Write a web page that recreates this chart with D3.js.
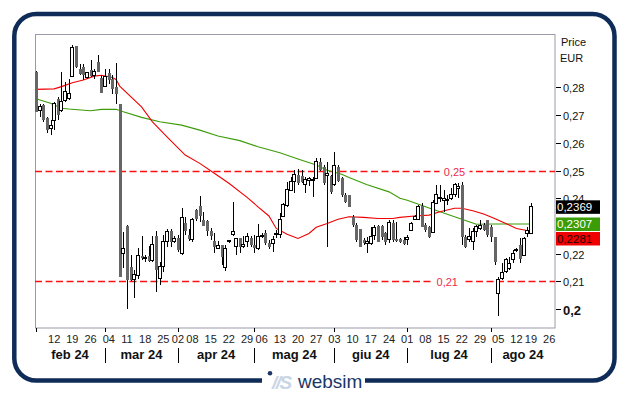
<!DOCTYPE html>
<html>
<head>
<meta charset="utf-8">
<script src="https://cdn.jsdelivr.net/npm/d3@7/dist/d3.min.js"></script>
<style>
  body { margin: 0; background: #fff; }
  svg { display: block; font-family: "Liberation Sans", Arial, sans-serif; }
</style>
</head>
<body>
<svg id="chart" width="629" height="395"></svg>
<script>
// Borsa closing days inside the shown range
const holidays = ["2024-03-29", "2024-04-01", "2024-05-01", "2024-08-15"];
const firstDay = "2024-02-05";
const lastAxisDay = "2024-08-30";

const monthNames = ["gen", "feb", "mar", "apr", "mag", "giu", "lug", "ago", "set", "ott", "nov", "dic"];

// daily candles [open, high, low, close], one per trading day from 5 feb 24
const ohlc = [
  [.2856, .2860, .2710, .2712], [.2717, .2740, .2695, .2732], [.2736, .2740, .2675, .2682], [.2688, .2694, .2634, .2646],
  [.2652, .2682, .2628, .2664], [.2682, .2748, .2646, .2742], [.2760, .2766, .2682, .2700], [.2718, .2856, .2712, .2748],
  [.2754, .2820, .2748, .2784], [.2760, .2832, .2754, .2780], [.2841, .2953, .2838, .2944], [.2949, .2949, .2870, .2874],
  [.2868, .2886, .2844, .2850], [.2874, .2886, .2826, .2844], [.2836, .2856, .2832, .2853], [.2862, .2898, .2838, .2841],
  [.2844, .2868, .2832, .2859], [.2892, .2916, .2856, .2856], [.2836, .2844, .2781, .2781], [.2805, .2865, .2800, .2841],
  [.2853, .2865, .2814, .2826], [.2829, .2844, .2776, .2796], [.2800, .2889, .2742, .2778], [.2742, .2742, .2117, .2117],
  [.2201, .2279, .2147, .2219], [.2298, .2304, .1999, .2105], [.2153, .2195, .2100, .2105], [.2105, .2141, .2039, .2123],
  [.2120, .2219, .2110, .2195], [.2192, .2265, .2177, .2183], [.2183, .2195, .2170, .2185], [.2193, .2228, .2170, .2174],
  [.2174, .2262, .2171, .2234], [.2262, .2280, .2063, .2141], [.2111, .2171, .2087, .2153], [.2153, .2268, .2135, .2243],
  [.2243, .2288, .2225, .2280], [.2283, .2288, .2225, .2243], [.2243, .2262, .2238, .2253], [.2256, .2268, .2207, .2213],
  [.2201, .2364, .2195, .2331], [.2312, .2334, .2268, .2283], [.2268, .2288, .2244, .2253], [.2250, .2328, .2243, .2325],
  [.2357, .2362, .2318, .2324], [.2373, .2408, .2313, .2337], [.2322, .2352, .2298, .2298], [.2318, .2322, .2262, .2280],
  [.2283, .2292, .2250, .2262], [.2246, .2274, .2201, .2225], [.2220, .2244, .2216, .2231], [.2231, .2232, .2159, .2189],
  [.2150, .2231, .2138, .2219], [.2244, .2250, .2240, .2246], [.2268, .2385, .2262, .2280], [.2225, .2256, .2195, .2256],
  [.2256, .2256, .2201, .2225], [.2225, .2262, .2220, .2232], [.2244, .2274, .2225, .2262], [.2256, .2262, .2225, .2232],
  [.2232, .2268, .2201, .2220], [.2220, .2307, .2214, .2262], [.2262, .2274, .2256, .2266], [.2274, .2286, .2232, .2238],
  [.2238, .2250, .2216, .2223], [.2235, .2262, .2207, .2252], [.2270, .2286, .2256, .2274], [.2268, .2348, .2256, .2324],
  [.2334, .2382, .2331, .2376], [.2375, .2460, .2370, .2430], [.2427, .2478, .2427, .2460], [.2460, .2502, .2418, .2484],
  [.2484, .2504, .2448, .2456], [.2480, .2502, .2455, .2458], [.2450, .2478, .2418, .2468], [.2465, .2478, .2445, .2470],
  [.2466, .2478, .2406, .2469], [.2472, .2546, .2468, .2534], [.2532, .2546, .2500, .2502], [.2514, .2520, .2448, .2454],
  [.2482, .2532, .2225, .2490], [.2481, .2484, .2414, .2421], [.2450, .2568, .2445, .2520], [.2514, .2520, .2460, .2463],
  [.2472, .2478, .2406, .2412], [.2412, .2418, .2382, .2387], [.2412, .2412, .2368, .2370], [.2333, .2339, .2297, .2303],
  [.2303, .2310, .2243, .2249], [.2288, .2288, .2225, .2225], [.2249, .2255, .2231, .2240], [.2238, .2261, .2201, .2244],
  [.2235, .2297, .2231, .2261], [.2267, .2303, .2249, .2295], [.2300, .2303, .2243, .2243], [.2300, .2303, .2249, .2261],
  [.2273, .2279, .2231, .2243], [.2252, .2321, .2237, .2312], [.2309, .2321, .2243, .2249], [.2253, .2315, .2243, .2247],
  [.2251, .2255, .2237, .2243], [.2249, .2261, .2231, .2233], [.2251, .2267, .2231, .2258], [.2283, .2315, .2283, .2309],
  [.2324, .2339, .2321, .2333], [.2324, .2375, .2321, .2369], [.2372, .2381, .2295, .2295], [.2303, .2312, .2279, .2285],
  [.2295, .2300, .2255, .2261], [.2275, .2395, .2275, .2385], [.2382, .2448, .2382, .2412], [.2400, .2448, .2388, .2401],
  [.2391, .2430, .2352, .2400], [.2392, .2412, .2376, .2397], [.2400, .2436, .2394, .2412], [.2412, .2454, .2406, .2448],
  [.2436, .2454, .2400, .2444], [.2448, .2460, .2231, .2261], [.2261, .2267, .2219, .2225], [.2250, .2292, .2243, .2261],
  [.2243, .2292, .2213, .2279], [.2279, .2303, .2261, .2297], [.2291, .2322, .2285, .2303], [.2303, .2310, .2280, .2285],
  [.2322, .2322, .2261, .2267], [.2297, .2303, .2243, .2261], [.2261, .2261, .2159, .2171], [.2057, .2117, .1973, .2105],
  [.2111, .2165, .2105, .2132], [.2135, .2183, .2129, .2177], [.2148, .2189, .2141, .2165], [.2177, .2213, .2165, .2201],
  [.2213, .2220, .2207, .2215], [.2231, .2255, .2165, .2180], [.2195, .2261, .2190, .2255], [.2273, .2295, .2260, .2283],
  [.2274, .2382, .2274, .2369]
];

// moving averages: [trading day index, value]
const redAvg = [
  [0, .2793], [5, .2795], [7, .2803], [10, .2817], [13, .2827], [16, .2841], [18, .2844], [21, .2836], [22, .2829],
  [23, .2805], [29, .2730], [32, .2676], [36, .2622], [41, .2556], [45, .2526], [49, .2490], [53, .2454], [58, .2403],
  [61, .2369], [64, .2336], [66, .2291], [69, .2270], [72, .2255], [75, .2273], [77, .2295], [80, .2309], [83, .2324],
  [86, .2333], [90, .2331], [94, .2327], [98, .2327], [100, .2331], [104, .2336], [108, .2339], [111, .2351], [115, .2364],
  [117, .2364], [120, .2355], [123, .2343], [126, .2327], [130, .2303], [132, .2291], [136, .2281]
];
const greenAvg = [
  [0, .2759], [4, .2743], [7, .2725], [9, .2722], [15, .2716], [18, .2721], [22, .2721], [24, .2712], [29, .2692],
  [34, .2676], [40, .2664], [45, .2646], [50, .2625], [56, .2608], [61, .2586], [67, .2564], [72, .2542], [77, .2520],
  [80, .2501], [84, .2487], [86, .2475], [91, .2449], [97, .2423], [100, .2400], [102, .2393], [108, .2365], [111, .2351],
  [115, .2333], [119, .2315], [121, .2306], [126, .2307], [136, .2307]
];

const priceTicks = [0.20, 0.21, 0.22, 0.23, 0.24, 0.25, 0.26, 0.27, 0.28];
// 0,23 sits under the last value boxes, so it gets no label
const hiddenTickLabels = [0.23];
const levelLines = [{ value: 0.25, at: 115 }, { value: 0.21, at: 113 }];

const lastValues = [
  { value: 0.2369, fill: "#000000", text: "#ffffff" },
  { value: 0.2307, fill: "#3c9c08", text: "#ffffff" },
  { value: 0.2281, fill: "#f00000", text: "#1a0000" }
];

// ---- trading calendar
const parse = d3.timeParse("%Y-%m-%d");
const fmt = d3.timeFormat("%Y-%m-%d");
const days = d3.timeDay.range(parse(firstDay), d3.timeDay.offset(parse(lastAxisDay), 1))
  .filter(d => d.getDay() !== 0 && d.getDay() !== 6 && !holidays.includes(fmt(d)));

const svg = d3.select("#chart");
const comma = v => d3.format(".2~f")(v).replace(".", ",");

const xScale = d3.scaleLinear().domain([-0.27, 142.6]).range([35, 555]);
const yScale = d3.scaleLinear().domain([0.19314, 0.29931]).range([328, 34]);

// outer rounded frame
svg.append("rect")
  .attr("x", 14.3).attr("y", 14).attr("width", 600.2).attr("height", 366.5)
  .attr("rx", 22).attr("fill", "none")
  .attr("stroke", "#0f2b57").attr("stroke-width", 4.5);

// logo gap in the bottom border
svg.append("rect").attr("x", 262).attr("y", 374).attr("width", 103).attr("height", 14).attr("fill", "#fff");
const logo = svg.append("g");
logo.append("circle").attr("cx", 270).attr("cy", 373.3).attr("r", 2.3).attr("fill", "#1b3766");
logo.append("text").attr("x", 272).attr("y", 388.5)
  .attr("font-size", 19).attr("font-weight", "bold").attr("font-style", "italic")
  .attr("letter-spacing", -1.5).attr("fill", "#c9d5e4").text("//S");
logo.append("text").attr("x", 298).attr("y", 388.3)
  .attr("font-size", 19).attr("fill", "#1b3766").text("websim");

// plot area
svg.append("defs").append("clipPath").attr("id", "plotClip")
  .append("rect").attr("x", 35).attr("y", 34).attr("width", 520).attr("height", 294);

svg.append("rect")
  .attr("x", 35.5).attr("y", 34.5).attr("width", 519.5).attr("height", 293.5)
  .attr("fill", "#fff").attr("stroke", "#9a9aa8").attr("stroke-width", 1);

const plot = svg.append("g").attr("clip-path", "url(#plotClip)");

// horizontal levels
levelLines.forEach(l => {
  const y = Math.round(yScale(l.value)) + 0.5;
  plot.append("line").attr("x1", 35).attr("x2", 555).attr("y1", y).attr("y2", y)
    .attr("stroke", "#ff1010").attr("stroke-width", 1.4).attr("stroke-dasharray", "7,3.5");
  const cx = xScale(l.at);
  plot.append("rect").attr("x", cx - 15).attr("y", y - 3).attr("width", 30).attr("height", 6).attr("fill", "#fff");
  plot.append("text").attr("x", cx).attr("y", y + 4).attr("text-anchor", "middle")
    .attr("font-size", 11).attr("fill", "#ee2a4e").text(comma(l.value));
});

// moving averages
const line = d3.line().x(d => xScale(d[0])).y(d => yScale(d[1]));
plot.append("path").datum(greenAvg).attr("d", line)
  .attr("fill", "none").attr("stroke", "#3c9c08").attr("stroke-width", 1.1);
plot.append("path").datum(redAvg).attr("d", line)
  .attr("fill", "none").attr("stroke", "#f00000").attr("stroke-width", 1.1);

// candles
const candles = plot.append("g").attr("shape-rendering", "crispEdges")
  .selectAll("g").data(ohlc).enter().append("g");

candles.append("line")
  .attr("x1", (d, i) => Math.round(xScale(i)) + 0.5)
  .attr("x2", (d, i) => Math.round(xScale(i)) + 0.5)
  .attr("y1", d => yScale(d[1]))
  .attr("y2", d => yScale(d[2]))
  .attr("stroke", "#000");

candles.append("rect")
  .attr("x", (d, i) => d[3] >= d[0] ? Math.round(xScale(i)) - 1.5 : Math.round(xScale(i)) - 1)
  .attr("width", d => 3)
  .attr("y", d => yScale(Math.max(d[0], d[3])))
  .attr("height", d => Math.max(1, yScale(Math.min(d[0], d[3])) - yScale(Math.max(d[0], d[3]))))
  .attr("fill", d => d[3] >= d[0] ? "#fff" : "#666")
  .attr("stroke", d => d[3] >= d[0] ? "#000" : "none");

// right price axis
const yAxisG = svg.append("g");
priceTicks.forEach(v => {
  const y = Math.round(yScale(v)) + 0.5;
  yAxisG.append("line").attr("x1", 556).attr("x2", 561).attr("y1", y).attr("y2", y).attr("stroke", "#000");
  if (hiddenTickLabels.includes(v)) return;
  const round = Math.abs(v * 10 - Math.round(v * 10)) < 1e-9;
  yAxisG.append("text").attr("x", 563).attr("y", y + (round ? 5 : 4))
    .attr("font-size", round ? 13 : 11).attr("font-weight", round ? "bold" : "normal")
    .attr("fill", "#111").text(comma(v));
});
svg.append("text").attr("x", 561).attr("y", 46).attr("font-size", 11).attr("fill", "#111").text("Price");
svg.append("text").attr("x", 560).attr("y", 62).attr("font-size", 11).attr("fill", "#111").text("EUR");

// last value boxes, stacked so they do not overlap
let prevTop = -Infinity;
lastValues.forEach(b => {
  let top = yScale(b.value) - 6.5;
  if (top < prevTop + 14.5) top = prevTop + 14.5;
  prevTop = top;
  svg.append("rect").attr("x", 556).attr("y", top).attr("width", 44).attr("height", 13.5).attr("fill", b.fill);
  svg.append("text").attr("x", 557).attr("y", top + 11).attr("font-size", 11.5)
    .attr("fill", b.text).text(d3.format(".4f")(b.value).replace(".", ","));
});

// date axis: week labels and month bands
const xAxisG = svg.append("g").attr("shape-rendering", "crispEdges");
const weekStarts = days.map((d, i) => ({ d, i }))
  .filter((o, k, arr) => k === 0 || d3.timeMonday.floor(o.d) - d3.timeMonday.floor(arr[k - 1].d) !== 0);
weekStarts.slice(1).forEach(o => {
  if (xScale(o.i) > 555) return;
  xAxisG.append("text").attr("x", xScale(o.i)).attr("y", 343).attr("text-anchor", "middle")
    .attr("font-size", 11).attr("fill", "#222").text(d3.timeFormat("%d")(o.d));
});

const monthStarts = days.map((d, i) => ({ d, i }))
  .filter((o, k, arr) => k === 0 || o.d.getMonth() !== arr[k - 1].d.getMonth());
monthStarts.forEach((o, k) => {
  const x = Math.round(xScale(o.i)) + 0.5;
  xAxisG.append("line").attr("x1", x).attr("x2", x).attr("y1", 328).attr("y2", 332).attr("stroke", "#000");
  if (k > 0) {
    xAxisG.append("line").attr("x1", x).attr("x2", x).attr("y1", 348).attr("y2", 363).attr("stroke", "#000");
  }
  const left = k === 0 ? 35 : xScale(o.i);
  const next = monthStarts[k + 1];
  const right = next ? xScale(next.i) : 555;
  xAxisG.append("text").attr("x", (left + right) / 2).attr("y", 359).attr("text-anchor", "middle")
    .attr("font-size", 13).attr("font-weight", "bold").attr("fill", "#111")
    .text(monthNames[o.d.getMonth()] + " " + d3.timeFormat("%y")(o.d));
});
</script>
</body>
</html>
